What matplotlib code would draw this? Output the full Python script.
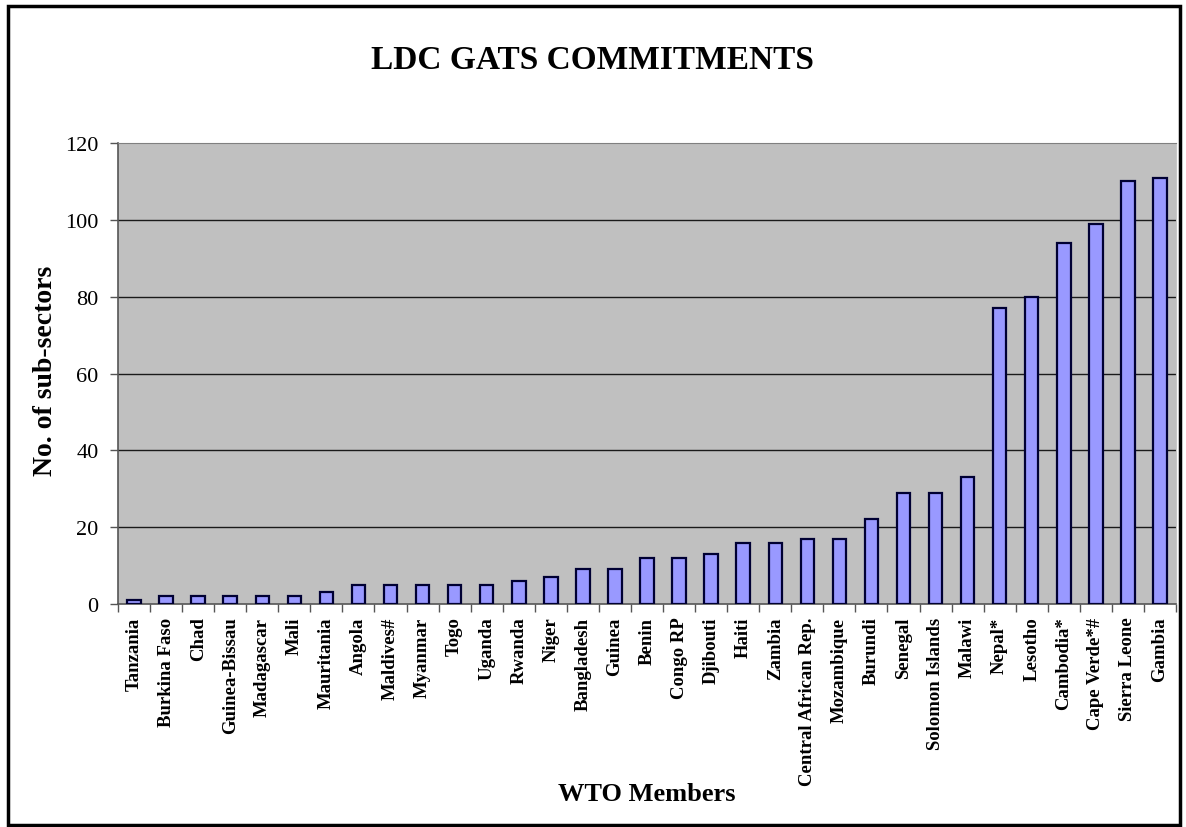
import matplotlib
matplotlib.use("Agg")
import matplotlib.pyplot as plt
from matplotlib.patches import Rectangle
import numpy as np

members = ["Tanzania", "Burkina Faso", "Chad", "Guinea-Bissau", "Madagascar", "Mali",
           "Mauritania", "Angola", "Maldives#", "Myanmar", "Togo", "Uganda", "Rwanda",
           "Niger", "Bangladesh", "Guinea", "Benin", "Congo RP", "Djibouti", "Haiti",
           "Zambia", "Central African Rep.", "Mozambique", "Burundi", "Senegal",
           "Solomon Islands", "Malawi", "Nepal*", "Lesotho", "Cambodia*", "Cape Verde*#",
           "Sierra Leone", "Gambia"]
subsectors = [1, 2, 2, 2, 2, 2, 3, 5, 5, 5, 5, 5, 6, 7, 9, 9, 12, 12, 13, 16, 16, 17, 17,
              22, 29, 29, 33, 77, 80, 94, 99, 110, 111]
yticks = [0, 20, 40, 60, 80, 100, 120]

serif = "Liberation Serif"

fig = plt.figure(figsize=(11.86, 8.28), dpi=100)
ax = fig.add_axes([0.0995, 0.2693, 0.8921, 0.5568])

x = np.arange(len(members))
ax.set_facecolor("#c0c0c0")
for yv in yticks[1:-1]:
    ax.axhline(yv, color="#1a1a1a", linewidth=1.0, zorder=1)
ax.bar(x, subsectors, width=0.42, color="#9999ff", edgecolor="#000033",
       linewidth=1.6, zorder=3)

ax.set_xlim(-0.5, len(members) - 0.5)
ax.set_ylim(0, 120)

ax.set_yticks(yticks)
ax.set_yticklabels([str(v) for v in yticks], fontfamily=serif, fontsize=16)
ax.tick_params(axis="y", length=6, width=1, color="#555555", pad=8)

ax.set_xticks(x)
ax.set_xticklabels(members, rotation=90, fontfamily=serif, fontweight="bold",
                   fontsize=13.5, va="top", ha="center")
ax.tick_params(axis="x", which="major", length=0, pad=9)
ax.set_xticks(np.arange(len(members) + 1) - 0.5, minor=True)
ax.tick_params(axis="x", which="minor", length=6, width=1, color="#555555")

for side in ["left", "bottom"]:
    ax.spines[side].set_color("#555555")
    ax.spines[side].set_linewidth(1.2)
ax.spines["top"].set_color("#808080")
ax.spines["right"].set_color("#c8c8c8")

fig.text(0.4995, 0.927, "LDC GATS COMMITMENTS", ha="center", va="center",
         fontfamily=serif, fontweight="bold", fontsize=24)
fig.text(0.545, 0.040, "WTO Members", ha="center", va="center",
         fontfamily=serif, fontweight="bold", fontsize=19)
fig.text(0.038, 0.552, "No. of sub-sectors", ha="center", va="center", rotation=90,
         fontfamily=serif, fontweight="bold", fontsize=20)

fig.patches.append(Rectangle((0.0068, 0.003), 0.9885, 0.9885, transform=fig.transFigure,
                             fill=False, edgecolor="black", linewidth=2.5))

fig.savefig("out.png", dpi=100)
